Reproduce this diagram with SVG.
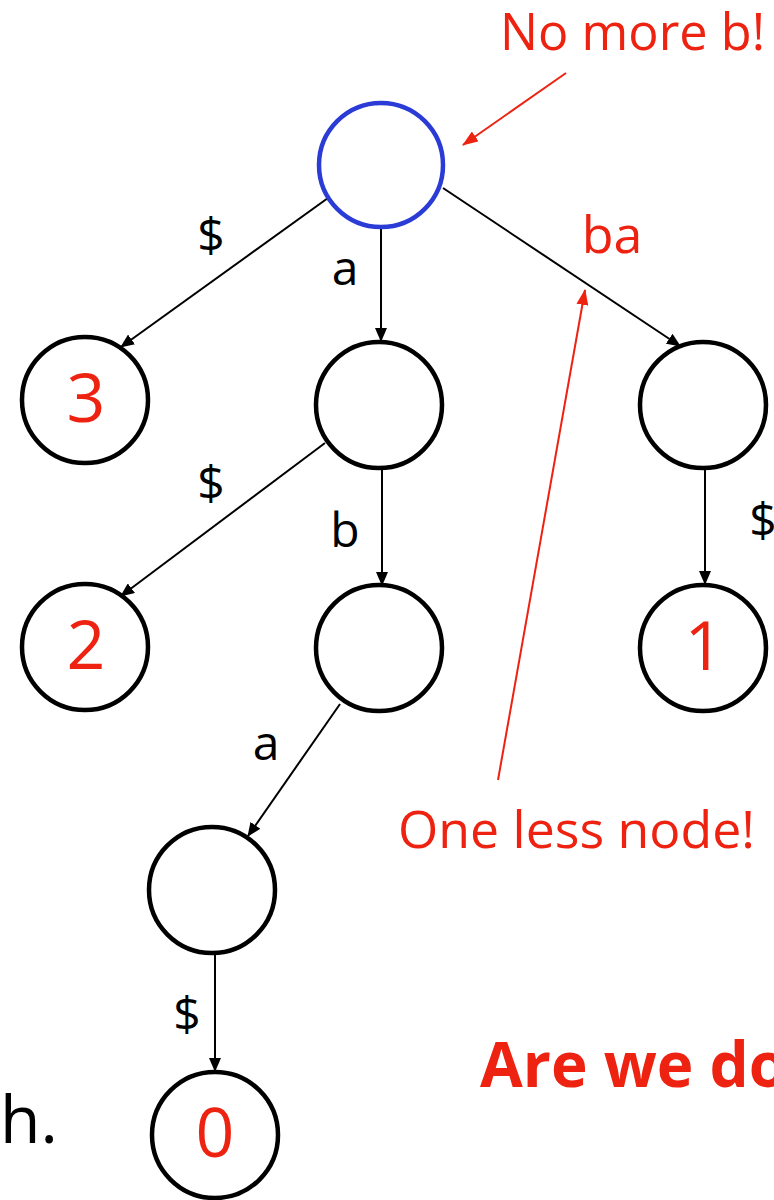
<svg xmlns="http://www.w3.org/2000/svg" width="774" height="1200" viewBox="0 0 774 1200">
<style>
.n{fill:#fff;stroke:#000;stroke-width:4.5}
.root{fill:#fff;stroke:#2b3bd6;stroke-width:4.5}
.e{stroke:#000;stroke-width:2;fill:none;marker-end:url(#ah)}
.r{stroke:#ee2211;stroke-width:2;fill:none;marker-end:url(#rh)}
.lb{font-family:"Open Sans","Noto Sans",sans-serif;font-size:48px;fill:#000;text-anchor:middle}
.num{font-family:"Open Sans","Noto Sans",sans-serif;font-size:68px;fill:#ee2211;text-anchor:middle}
.ann{font-family:"Open Sans","Noto Sans",sans-serif;font-size:52px;fill:#ee2211}
</style>
<defs>
<marker id="ah" markerWidth="14" markerHeight="12" refX="13" refY="6" orient="auto" markerUnits="userSpaceOnUse">
<path d="M0,0 L14,6 L0,12 Z" fill="#000"/>
</marker>
<marker id="rh" markerWidth="16" markerHeight="12" refX="15" refY="6" orient="auto" markerUnits="userSpaceOnUse">
<path d="M0,0 L16,6 L0,12 Z" fill="#ee2211"/>
</marker>
</defs>
<g id="connectors">
<line class="e" x1="328" y1="198" x2="121" y2="347"/>
<line class="e" x1="381" y1="228" x2="381" y2="341"/>
<line class="e" x1="443" y1="188" x2="680" y2="346"/>
<line class="e" x1="325" y1="443" x2="121" y2="596"/>
<line class="e" x1="382" y1="468" x2="382" y2="585"/>
<line class="e" x1="705" y1="467" x2="705" y2="584"/>
<line class="e" x1="340" y1="704" x2="248" y2="836"/>
<line class="e" x1="215" y1="953" x2="215" y2="1071"/>
<text class="lb" x="211" y="252">$</text>
<text class="lb" x="345" y="285">a</text>
<text class="lb" x="211" y="500">$</text>
<text class="lb" x="345" y="547">b</text>
<text class="lb" x="763" y="537">$</text>
<text class="lb" x="266" y="760">a</text>
<text class="lb" x="187" y="1031">$</text>
<text class="ann" x="612" y="253" text-anchor="middle" font-size="48">ba</text>
</g>
<g id="root"><circle class="root" cx="381" cy="165" r="62"/></g>
<g id="n3"><circle class="n" cx="85" cy="400" r="63"/><text class="num" x="86" y="422">3</text></g>
<g id="na"><circle class="n" cx="379" cy="405" r="63"/></g>
<g id="nba"><circle class="n" cx="703" cy="405" r="63"/></g>
<g id="n2"><circle class="n" cx="85" cy="647" r="63"/><text class="num" x="86" y="669">2</text></g>
<g id="nab"><circle class="n" cx="379" cy="648" r="63"/></g>
<g id="n1"><circle class="n" cx="703" cy="648" r="63"/><text class="num" x="704" y="670">1</text></g>
<g id="naba"><circle class="n" cx="212" cy="890" r="63"/></g>
<g id="n0"><circle class="n" cx="215" cy="1135" r="63"/><text class="num" x="215" y="1157">0</text></g>
<g id="annotations">
<text class="ann" x="500" y="50" font-size="54" textLength="265" lengthAdjust="spacingAndGlyphs">No more b!</text>
<line class="r" x1="566" y1="73" x2="463" y2="145"/>
<line class="r" x1="498" y1="780" x2="585" y2="290"/>
<text class="ann" x="398" y="848" textLength="357" lengthAdjust="spacingAndGlyphs">One less node!</text>
<text x="480" y="1087" font-family="'Open Sans','Noto Sans',sans-serif" font-weight="bold" font-size="62" fill="#ee2211">Are we done?</text>
<text x="0" y="1143" font-family="'Open Sans','Noto Sans',sans-serif" font-size="66" fill="#000">h.</text>
</g>
</svg>
